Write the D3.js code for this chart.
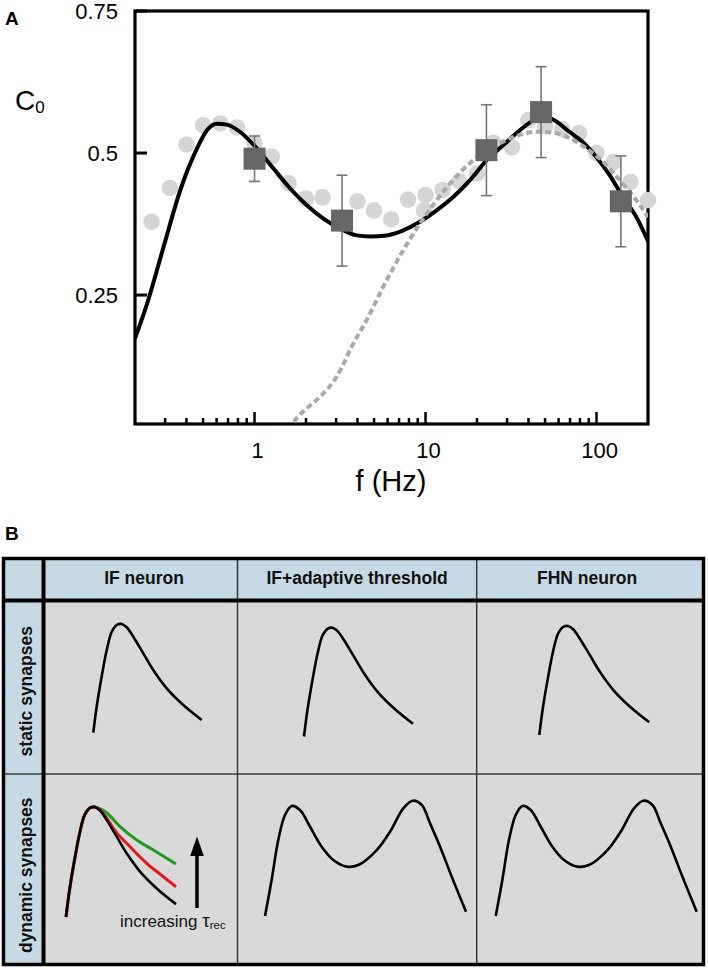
<!DOCTYPE html>
<html><head><meta charset="utf-8">
<script src="https://cdn.jsdelivr.net/npm/d3@7"></script>
<style>
body{margin:0;background:#fff;}
svg{display:block;font-family:"Liberation Sans",Arial,Helvetica,sans-serif;}
</style>
</head><body>
<svg id="chart" width="708" height="970"></svg>
<script>
// ---------------- Panel A data ----------------
const dotFreq = [0.25,0.32,0.40,0.50,0.63,0.79,1.0,1.26,1.58,2.0,2.5,3.2,4.0,5.0,6.3,7.9,10,9.8,12.6,15.8,20,25,32,40,50,63,79,100,126,158,200];
const dotC0   = [0.379,0.4385,0.515,0.549,0.552,0.545,0.517,0.494,0.447,0.420,0.422,0.385,0.415,0.399,0.383,0.418,0.426,0.399,0.435,0.450,0.464,0.518,0.510,0.558,0.547,0.542,0.535,0.500,0.484,0.449,0.417];

const fitFreq = [0.2,0.2355,0.294,0.368,0.461,0.527,0.603,0.69,0.825,1.033,1.291,1.616,2.022,2.528,3.165,3.961,4.736,5.93,7.41,9.28,11.61,14.51,18.16,22.74,28.42,35.58,42.54,47.5,55.66,69.66,83.3,99.7,119.3,142.6,170.8,200];
const fitC0   = [0.174,0.235,0.335,0.4345,0.508,0.540,0.5516,0.550,0.537,0.508,0.4726,0.4375,0.408,0.3847,0.367,0.355,0.353,0.355,0.364,0.379,0.399,0.4227,0.452,0.487,0.5135,0.540,0.5574,0.565,0.559,0.537,0.519,0.493,0.461,0.4227,0.3876,0.345];

const dashFreq = [1.6,1.69,2.023,2.418,3.027,3.784,4.531,5.663,7.41,9.28,11.61,14.51,18.16,22.74,28.42,35.58,44.53,55.66,69.66,87.2,109,136.4,170.8,200];
const dashC0   = [0.012,0.0253,0.0506,0.071,0.1063,0.165,0.206,0.2647,0.329,0.376,0.417,0.4525,0.482,0.504,0.520,0.532,0.5375,0.536,0.526,0.508,0.485,0.4525,0.417,0.387];

const sqFreq = [1, 3.25, 22.7, 47.4, 138.8];
const sqC0   = [0.490, 0.381, 0.505, 0.572, 0.415];
const sqErr  = [0.040, 0.080, 0.080, 0.080, 0.080];

const yTicks = [0.25, 0.5, 0.75];
const yTickLabels = ["0.25", "0.5", "0.75"];
const xMajorTicks = [1, 10, 100];
const xMajorLabels = ["1", "10", "100"];
const xMinorTicks = [0.3,0.4,0.5,0.6,0.7,0.8,0.9,2,3,4,5,6,7,8,9,20,30,40,50,60,70,80,90];

// ---------------- Panel B data ----------------
const colHeaders = ["IF neuron", "IF+adaptive threshold", "FHN neuron"];
const rowHeaders = ["static synapses", "dynamic synapses"];
// schematic response shapes, normalised (x: 0..1 across, y: 0..1 up)
const singlePeakShape = [[0,0],[0.031,0.239],[0.077,0.515],[0.124,0.761],[0.170,0.929],[0.216,0.991],[0.262,1.0],[0.308,0.970],[0.369,0.883],[0.461,0.730],[0.553,0.577],[0.677,0.408],[0.830,0.255],[1.0,0.117]];
const redShape   = [[0,0],[0.031,0.239],[0.077,0.515],[0.124,0.761],[0.170,0.929],[0.216,0.991],[0.262,1.0],[0.308,0.975],[0.369,0.900],[0.461,0.765],[0.582,0.639],[0.734,0.488],[0.885,0.366],[1.0,0.275]];
const greenShape = [[0,0],[0.031,0.239],[0.077,0.515],[0.124,0.761],[0.170,0.929],[0.216,0.991],[0.262,1.0],[0.308,0.985],[0.370,0.948],[0.491,0.821],[0.643,0.700],[0.794,0.609],[1.0,0.482]];
const doublePeakShape = [[0,0],[0.033,0.312],[0.066,0.659],[0.0995,0.876],[0.133,0.954],[0.174,0.919],[0.224,0.774],[0.282,0.601],[0.340,0.486],[0.406,0.428],[0.464,0.442],[0.556,0.572],[0.622,0.731],[0.688,0.934],[0.735,1.0],[0.780,0.963],[0.821,0.804],[0.871,0.601],[0.929,0.341],[1.0,0.037]];

// ---------------- drawing ----------------
const svg = d3.select("#chart");

// Panel A
const plot = {left:135, right:648, top:11, bottom:424};
const x = d3.scaleLog().domain([0.2, 200]).range([plot.left, plot.right]);
const y = d3.scaleLinear().domain([0.023, 0.75]).range([plot.bottom, plot.top]);

svg.append("text").attr("x",5).attr("y",25).attr("font-size",19).attr("font-weight","bold").text("A");

svg.append("defs").append("clipPath").attr("id","plotclip")
  .append("rect").attr("x",plot.left).attr("y",plot.top).attr("width",plot.right-plot.left).attr("height",plot.bottom-plot.top);

const gA = svg.append("g");

// frame
gA.append("rect").attr("x",plot.left).attr("y",plot.top)
  .attr("width",plot.right-plot.left).attr("height",plot.bottom-plot.top)
  .attr("fill","none").attr("stroke","#000").attr("stroke-width",3.2);

// y ticks (inward)
gA.selectAll(".yt").data(yTicks).enter().append("line")
  .attr("x1",plot.left).attr("x2",plot.left+12)
  .attr("y1",d=>y(d)).attr("y2",d=>y(d))
  .attr("stroke","#000").attr("stroke-width",3);
gA.selectAll(".yl").data(yTicks).enter().append("text")
  .attr("x",118).attr("y",d=>y(d)+8).attr("text-anchor","end")
  .attr("font-size",22).text((d,i)=>yTickLabels[i]);

// x ticks (inward)
gA.selectAll(".xM").data(xMajorTicks).enter().append("line")
  .attr("x1",d=>x(d)).attr("x2",d=>x(d))
  .attr("y1",plot.bottom).attr("y2",plot.bottom-12)
  .attr("stroke","#000").attr("stroke-width",2.5);
gA.selectAll(".xm").data(xMinorTicks).enter().append("line")
  .attr("x1",d=>x(d)).attr("x2",d=>x(d))
  .attr("y1",plot.bottom).attr("y2",plot.bottom-6)
  .attr("stroke","#000").attr("stroke-width",2.5);
gA.selectAll(".xl").data(xMajorTicks).enter().append("text")
  .attr("x",d=>x(d)+3).attr("y",458).attr("text-anchor","middle")
  .attr("font-size",22).text((d,i)=>xMajorLabels[i]);

// axis titles
gA.append("text").attr("x",391).attr("y",491).attr("text-anchor","middle")
  .attr("font-size",29).text("f (Hz)");
const c0 = gA.append("text").attr("x",15).attr("y",110).attr("font-size",28);
c0.append("tspan").text("C");
c0.append("tspan").attr("font-size",17).attr("dy",3).text("0");

// gray circles
const dots = dotFreq.map((f,i)=>({f, v:dotC0[i]}));
gA.append("g").selectAll("circle").data(dots).enter().append("circle")
  .attr("cx",d=>x(d.f)).attr("cy",d=>y(d.v)).attr("r",8.3)
  .attr("fill","#d5d5d5");

const clipped = gA.append("g").attr("clip-path","url(#plotclip)");
const lineGen = d3.line().x(d=>x(d.f)).y(d=>y(d.v)).curve(d3.curveMonotoneX);

// solid black fit
clipped.append("path").datum(fitFreq.map((f,i)=>({f, v:fitC0[i]})))
  .attr("d",lineGen).attr("fill","none").attr("stroke","#000").attr("stroke-width",4);

// error bars and squares
const sq = sqFreq.map((f,i)=>({f, v:sqC0[i], e:sqErr[i]}));
const eb = gA.append("g").attr("stroke","#777").attr("stroke-width",1.6);
sq.forEach(d=>{
  eb.append("line").attr("x1",x(d.f)).attr("x2",x(d.f)).attr("y1",y(d.v+d.e)).attr("y2",y(d.v-d.e));
  eb.append("line").attr("x1",x(d.f)-5.5).attr("x2",x(d.f)+5.5).attr("y1",y(d.v+d.e)).attr("y2",y(d.v+d.e));
  eb.append("line").attr("x1",x(d.f)-5.5).attr("x2",x(d.f)+5.5).attr("y1",y(d.v-d.e)).attr("y2",y(d.v-d.e));
});
gA.append("g").selectAll("rect").data(sq).enter().append("rect")
  .attr("x",d=>x(d.f)-11).attr("y",d=>y(d.v)-11).attr("width",22).attr("height",22)
  .attr("fill","#666");

// dashed gray curve
clipped.append("path").datum(dashFreq.map((f,i)=>({f, v:dashC0[i]})))
  .attr("d",lineGen).attr("fill","none").attr("stroke","#a9a9a9").attr("stroke-width",4)
  .attr("stroke-dasharray","6,3.5");

// ---------------- Panel B ----------------
svg.append("text").attr("x",5).attr("y",540).attr("font-size",19).attr("font-weight","bold").text("B");

const colX = [3.5, 43.5, 237.5, 476.7, 703.5];
const rowY = [558.5, 600.5, 774, 964.5];
const blue = "#c6dae5", gray = "#d9d9d9";
const gB = svg.append("g");

const cells = [];
for (let r=0; r<3; r++) for (let c=0; c<4; c++) cells.push({r,c});
gB.selectAll("rect.cell").data(cells).enter().append("rect")
  .attr("x",d=>colX[d.c]).attr("y",d=>rowY[d.r])
  .attr("width",d=>colX[d.c+1]-colX[d.c]).attr("height",d=>rowY[d.r+1]-rowY[d.r])
  .attr("fill",d=>(d.r===0||d.c===0)?blue:gray);

// thin grid lines
gB.append("line").attr("x1",colX[2]).attr("x2",colX[2]).attr("y1",rowY[0]).attr("y2",rowY[3]).attr("stroke","#3a3a3a").attr("stroke-width",1.5);
gB.append("line").attr("x1",colX[3]).attr("x2",colX[3]).attr("y1",rowY[0]).attr("y2",rowY[3]).attr("stroke","#3a3a3a").attr("stroke-width",1.5);
gB.append("line").attr("x1",colX[0]).attr("x2",colX[4]).attr("y1",rowY[2]).attr("y2",rowY[2]).attr("stroke","#3a3a3a").attr("stroke-width",1.5);
// thick lines
gB.append("line").attr("x1",colX[0]).attr("x2",colX[4]).attr("y1",rowY[1]).attr("y2",rowY[1]).attr("stroke","#000").attr("stroke-width",4);
gB.append("line").attr("x1",colX[1]).attr("x2",colX[1]).attr("y1",rowY[0]).attr("y2",rowY[3]).attr("stroke","#000").attr("stroke-width",4);
gB.append("rect").attr("x",colX[0]).attr("y",rowY[0]).attr("width",colX[4]-colX[0]).attr("height",rowY[3]-rowY[0])
  .attr("fill","none").attr("stroke","#000").attr("stroke-width",3.5);

// headers
gB.selectAll("text.ch").data(colHeaders).enter().append("text")
  .attr("x",(d,i)=>(colX[i+1]+colX[i+2])/2 + (i===0?3.5:(i===2?-3:0)))
  .attr("y",584).attr("text-anchor","middle").attr("font-size",17.5).attr("font-weight","bold")
  .attr("fill","#111").text(d=>d);
gB.selectAll("text.rh").data(rowHeaders).enter().append("text")
  .attr("transform",(d,i)=>`translate(32,${(rowY[i+1]+rowY[i+2])/2 + (i===0?4:6)}) rotate(-90)`)
  .attr("text-anchor","middle").attr("font-size",17.5).attr("font-weight","bold")
  .attr("fill","#111").text(d=>d);

// schematic curves
function drawShape(shape, box, color, width){
  const sx = d3.scaleLinear().domain([0,1]).range([box.x, box.x+box.w]);
  const sy = d3.scaleLinear().domain([0,1]).range([box.y, box.y-box.h]);
  gB.append("path").attr("d", d3.line().x(d=>sx(d[0])).y(d=>sy(d[1])).curve(d3.curveCatmullRom.alpha(0.5))(shape))
    .attr("fill","none").attr("stroke",color).attr("stroke-width",width||2.6).attr("stroke-linecap","butt");
}
// static row
drawShape(singlePeakShape, {x:93.3, y:732.7, w:108.4, h:108.7}, "#000");
drawShape(singlePeakShape, {x:304,  y:736.5, w:109,   h:108.7}, "#000");
drawShape(singlePeakShape, {x:539.3,y:735,   w:110,   h:109},   "#000");
// dynamic row
const ifDynBox = {x:66, y:917, w:110, h:110};
drawShape(greenShape, ifDynBox, "#1f9a1f", 3);
drawShape(redShape, ifDynBox, "#e8141c", 3);
drawShape(singlePeakShape, ifDynBox, "#000", 2.6);
drawShape(doublePeakShape, {x:265,   y:916, w:201, h:115.3}, "#000");
drawShape(doublePeakShape, {x:495.7, y:916, w:201, h:115.3}, "#000");

// arrow + annotation
const ax = 197;
gB.append("line").attr("x1",ax).attr("x2",ax).attr("y1",908).attr("y2",852).attr("stroke","#000").attr("stroke-width",3.5);
gB.append("path").attr("d",`M${ax},836.5 L${ax-6.8},856 L${ax+6.8},856 Z`).attr("fill","#000");
const ann = gB.append("text").attr("x",120).attr("y",927).attr("font-size",17).attr("fill","#111");
ann.append("tspan").text("increasing ");
ann.append("tspan").attr("font-size",19).text("τ");
ann.append("tspan").attr("font-size",11.5).attr("dy",2).text("rec");
</script>
</body></html>
